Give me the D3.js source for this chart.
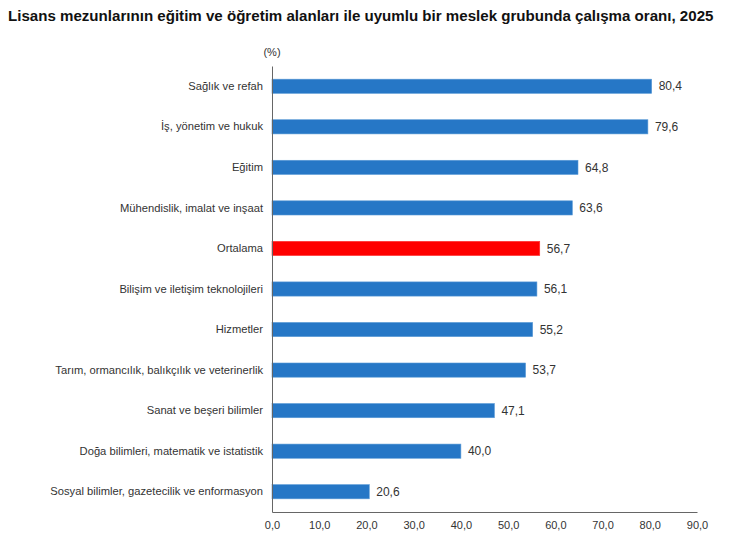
<!DOCTYPE html>
<html>
<head>
<meta charset="utf-8">
<script src="https://cdn.jsdelivr.net/npm/d3@7"></script>
<style>
  body { margin: 0; background: #fff; }
  svg { font-family: "Liberation Sans", Arial, sans-serif; }
</style>
</head>
<body>
<div id="chart"></div>
<script>
const categories = [
  "Sağlık ve refah",
  "İş, yönetim ve hukuk",
  "Eğitim",
  "Mühendislik, imalat ve inşaat",
  "Ortalama",
  "Bilişim ve iletişim teknolojileri",
  "Hizmetler",
  "Tarım, ormancılık, balıkçılık ve veterinerlik",
  "Sanat ve beşeri bilimler",
  "Doğa bilimleri, matematik ve istatistik",
  "Sosyal bilimler, gazetecilik ve enformasyon"
];
const values = [80.4, 79.6, 64.8, 63.6, 56.7, 56.1, 55.2, 53.7, 47.1, 40.0, 20.6];
const xTicks = [0, 10, 20, 30, 40, 50, 60, 70, 80, 90];
const highlight = "Ortalama";

const width = 750, height = 541,
      margin = { top: 66, right: 53, bottom: 29, left: 272 };

const data = categories.map((c, i) => ({ name: c, value: values[i] }));
const fmt = v => v.toFixed(1).replace(".", ",");

const svg = d3.select("#chart")
  .append("svg")
  .attr("width", width)
  .attr("height", height);

const x = d3.scaleLinear()
  .domain([0, 90])
  .range([margin.left, width - margin.right]);

const y = d3.scaleBand()
  .domain(categories)
  .range([margin.top, height - margin.bottom])
  .paddingInner(0.65)
  .paddingOuter(0.325);

// Title
svg.append("text")
  .attr("x", 8)
  .attr("y", 21)
  .style("font-size", "15.1px")
  .style("font-weight", "bold")
  .style("fill", "#111")
  .text("Lisans mezunlarının eğitim ve öğretim alanları ile uyumlu bir meslek grubunda çalışma oranı, 2025");

// Unit
svg.append("text")
  .attr("x", margin.left)
  .attr("y", 56)
  .attr("text-anchor", "middle")
  .style("font-size", "11px")
  .style("fill", "#333")
  .text("(%)");

// Bars
svg.selectAll(".bar")
  .data(data)
  .join("rect")
  .attr("class", "bar")
  .attr("x", x(0))
  .attr("y", d => y(d.name))
  .attr("width", d => x(d.value) - x(0))
  .attr("height", y.bandwidth())
  .attr("fill", d => d.name === highlight ? "#ff0000" : "#2677c6")
  .attr("stroke", d => d.name === highlight ? "#ff3030" : "#5a9ad6")
  .attr("stroke-width", 0.6);

// Value labels
svg.selectAll(".val")
  .data(data)
  .join("text")
  .attr("class", "val")
  .attr("x", d => x(d.value) + 7)
  .attr("y", d => y(d.name) + y.bandwidth() / 2)
  .attr("dy", "0.35em")
  .style("font-size", "12px")
  .style("fill", "#333")
  .text(d => fmt(d.value));

// Y axis
const yAxis = svg.append("g")
  .attr("transform", `translate(${margin.left},0)`)
  .call(d3.axisLeft(y).tickSize(0).tickPadding(9));
yAxis.select(".domain").attr("stroke", "#666");
yAxis.selectAll("text")
  .style("font-size", "11.2px")
  .style("font-family", "Liberation Sans, Arial, sans-serif")
  .style("fill", "#333");

// X axis
const xAxis = svg.append("g")
  .attr("transform", `translate(0,${height - margin.bottom})`)
  .call(d3.axisBottom(x).tickValues(xTicks).tickSize(0).tickPadding(9).tickFormat(fmt));
xAxis.select(".domain").attr("stroke", "#666");
xAxis.selectAll("text")
  .style("font-size", "11px")
  .style("font-family", "Liberation Sans, Arial, sans-serif")
  .style("fill", "#333");
</script>
</body>
</html>
